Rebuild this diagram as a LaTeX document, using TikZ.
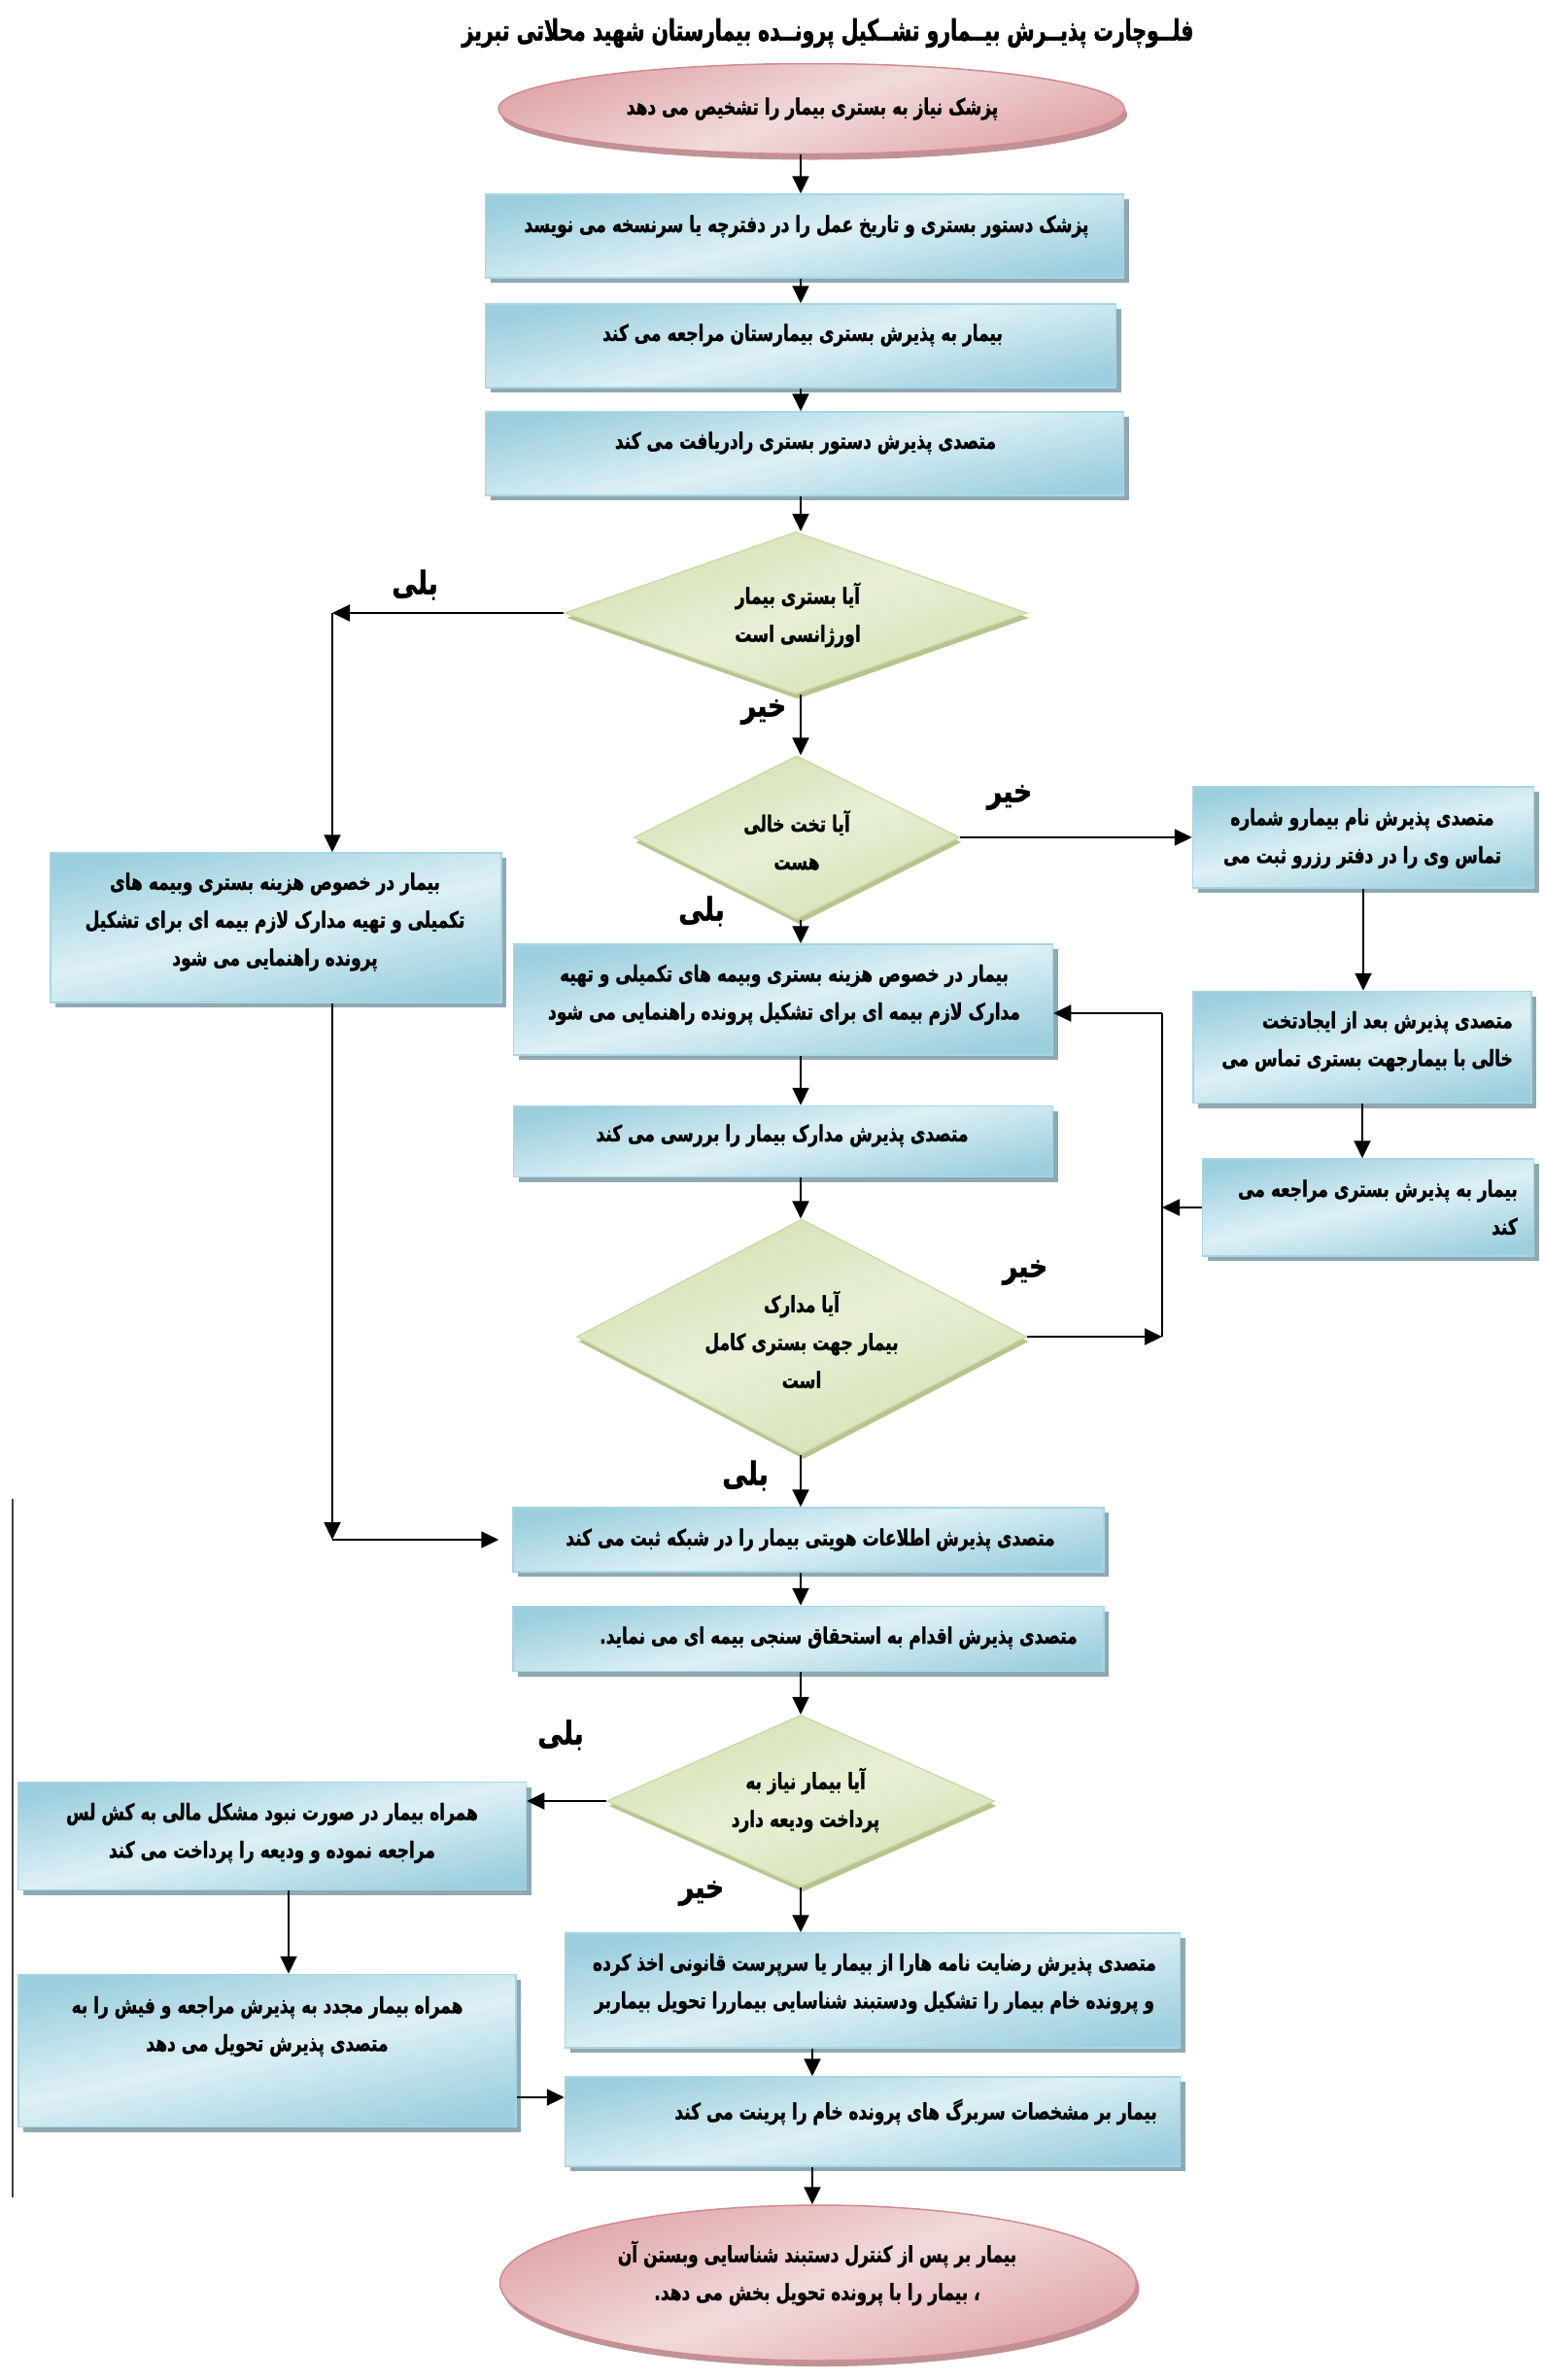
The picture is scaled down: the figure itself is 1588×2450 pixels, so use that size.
\documentclass[tikz,border=0pt]{standalone}
\usepackage{fontspec}
\TeXXeTstate=1
\newfontfamily\fafont[Script=Arabic, FakeStretch=0.74, FakeBold=1.2]{DejaVu Sans}
\newfontfamily\fatitle[Script=Arabic, FakeStretch=0.68, FakeBold=1.5]{DejaVu Sans}
\newfontfamily\falab[Script=Arabic, FakeStretch=0.8, FakeBold=1.5]{DejaVu Sans}
\usetikzlibrary{shapes.geometric,arrows.meta,calc}
\definecolor{boxlight}{HTML}{DDF0F5}
\definecolor{boxdark}{HTML}{9CCFDE}
\definecolor{boxedge}{HTML}{A6D6E4}
\definecolor{boxshadow}{HTML}{8FA8B2}
\definecolor{dialight}{HTML}{E8EFD6}
\definecolor{diadark}{HTML}{D4E0B2}
\definecolor{diaedge}{HTML}{C9D8A0}
\definecolor{diashadow}{HTML}{B8C490}
\definecolor{elllight}{HTML}{F1DADA}
\definecolor{elldark}{HTML}{E0A6AA}
\definecolor{elledge}{HTML}{D08A90}
\definecolor{ellshadow}{HTML}{BF9296}
\newcommand\fatxt[1]{\beginR #1\endR}
\tikzset{
  box/.style={rectangle, draw=boxedge, line width=1.5pt,
    top color=boxdark, bottom color=boxdark, middle color=boxlight, shading angle=12,
    preaction={fill=boxshadow, transform canvas={xshift=5pt,yshift=-5pt}}},
  dia/.style={diamond, draw=diaedge, line width=1.2pt,
    top color=diadark, bottom color=diadark, middle color=dialight, shading angle=20,
    preaction={fill=diashadow, transform canvas={xshift=2pt,yshift=-5pt}}},
  ell/.style={ellipse, draw=elledge, line width=1.5pt,
    top color=elldark, bottom color=elldark, middle color=elllight, shading angle=20,
    preaction={fill=ellshadow, transform canvas={xshift=3pt,yshift=-6pt}}},
  tx/.style={font=\fafont\bfseries\fontsize{23}{39}\selectfont, align=center, inner sep=0pt},
  txr/.style={tx, align=right, anchor=east},
  lab/.style={font=\falab\bfseries\fontsize{33}{36}\selectfont, inner sep=0pt},
  ttl/.style={font=\fatitle\bfseries\fontsize{30}{34}\selectfont, inner sep=0pt},
  arr/.style={-{Triangle[length=18pt,width=17pt]}, line width=2pt},
  ln/.style={line width=2pt},
}
\begin{document}
\begin{tikzpicture}[x=1pt,y=-1pt]
\useasboundingbox[fill=white] (0,0) rectangle (1588,2450);
\coordinate (cx) at (824,0);
\coordinate (cx2) at (836,0);
\coordinate (cl) at (297,0);
% title
\node[ttl] (title) at (852,34) {\fatxt{فلــوچارت پذیــرش بیــمارو تشــکیل پرونــده بیمارستان شهید محلاتی تبریز}};
% shapes
\node[ell, minimum width=644pt, minimum height=93pt] (e1) at (835,112) {};
\node[box, minimum width=657pt, minimum height=86pt] (b1) at (828,243) {};
\node[box, minimum width=649pt, minimum height=86pt] (b2) at (824,356) {};
\node[box, minimum width=657pt, minimum height=86pt] (b3) at (828,467) {};
\node[dia, minimum width=476pt, minimum height=167pt] (d1) at (819,631) {};
\node[dia, minimum width=335pt, minimum height=168pt] (d2) at (820,862) {};
\node[box, minimum width=351pt, minimum height=104pt] (r1) at (1403,862) {};
\node[box, minimum width=348pt, minimum height=115pt] (r2) at (1402,1078) {};
\node[box, minimum width=341pt, minimum height=100pt] (r3) at (1408,1243) {};
\node[box, minimum width=464pt, minimum height=154pt] (l1) at (284,955) {};
\node[box, minimum width=555pt, minimum height=114pt] (b4) at (806,1029) {};
\node[box, minimum width=555pt, minimum height=73pt] (b5) at (806,1175) {};
\node[dia, minimum width=463pt, minimum height=242pt] (d3) at (825,1376) {};
\node[box, minimum width=608pt, minimum height=66pt] (b6) at (832,1585) {};
\node[box, minimum width=608pt, minimum height=67pt] (b7) at (832,1687) {};
\node[dia, minimum width=399pt, minimum height=177pt] (d4) at (824,1854) {};
\node[box, minimum width=523pt, minimum height=111pt] (l2) at (280,1890) {};
\node[box, minimum width=512pt, minimum height=157pt] (l3) at (275,2111) {};
\node[box, minimum width=633pt, minimum height=118pt] (b8) at (898,2049) {};
\node[box, minimum width=633pt, minimum height=92pt] (b9) at (898,2184) {};
\node[ell, minimum width=655pt, minimum height=160pt] (e2) at (842,2350) {};
% texts
\node[tx] (te1) at (836,112) {\fatxt{پزشک نیاز به بستری بیمار را تشخیص می دهد}};
\node[tx] (tb1) at (830,233) {\fatxt{پزشک دستور بستری و تاریخ عمل را در دفترچه یا سرنسخه می نویسد}};
\node[tx] (tb2) at (826,345) {\fatxt{بیمار به پذیرش بستری بیمارستان مراجعه می کند}};
\node[tx] (tb3) at (829,456) {\fatxt{متصدی پذیرش دستور بستری رادریافت می کند}};
\node[tx] (td1) at (821,633) {\fatxt{آیا بستری بیمار}\\\fatxt{اورژانسی است}};
\node[tx] (td2) at (820,865) {\fatxt{آیا تخت خالی}\\\fatxt{هست}};
\node[tx] (tr1) at (1402,863) {\fatxt{متصدی پذیرش نام بیمارو شماره}\\\fatxt{تماس وی را در دفتر رزرو ثبت می}};
\node[txr] (tr2) at (1557,1072) {\fatxt{متصدی پذیرش بعد از ایجادتخت}\\\fatxt{خالی با بیمارجهت بستری تماس می}};
\node[txr] (tr3) at (1562,1243) {\fatxt{بیمار به پذیرش بستری مراجعه می}\\\fatxt{کند}};
\node[tx] (tl1) at (283,949) {\fatxt{بیمار در خصوص هزینه بستری وبیمه های}\\\fatxt{تکمیلی و تهیه مدارک لازم بیمه ای برای تشکیل}\\\fatxt{پرونده راهنمایی می شود}};
\node[tx] (tb4) at (807,1024) {\fatxt{بیمار در خصوص هزینه بستری وبیمه های تکمیلی و تهیه}\\\fatxt{مدارک لازم بیمه ای برای تشکیل پرونده راهنمایی می شود}};
\node[tx] (tb5) at (805,1169) {\fatxt{متصدی پذیرش مدارک بیمار را بررسی می کند}};
\node[tx] (td3) at (825,1379) {\fatxt{آیا مدارک}\\\fatxt{بیمار جهت بستری کامل}\\\fatxt{است}};
\node[tx] (tb6) at (834,1585) {\fatxt{متصدی پذیرش اطلاعات هویتی بیمار را در شبکه ثبت می کند}};
\node[tx] (tb7) at (863,1686) {\fatxt{متصدی پذیرش اقدام به استحقاق سنجی بیمه ای می نماید.}};
\node[tx] (td4) at (829,1853) {\fatxt{آیا بیمار نیاز به}\\\fatxt{پرداخت ودیعه دارد}};
\node[tx] (tl2) at (280,1887) {\fatxt{همراه بیمار در صورت نبود مشکل مالی به کش لس}\\\fatxt{مراجعه نموده و ودیعه را پرداخت می کند}};
\node[tx] (tl3) at (275,2086) {\fatxt{همراه بیمار مجدد به پذیرش مراجعه و فیش را به}\\\fatxt{متصدی پذیرش تحویل می دهد}};
\node[tx] (tb8) at (900,2042) {\fatxt{متصدی پذیرش رضایت نامه هارا از بیمار یا سرپرست قانونی اخذ کرده}\\\fatxt{و پرونده خام بیمار را تشکیل ودستبند شناسایی بیماررا تحویل بیماربر}};
\node[txr] (tb9) at (1191,2174) {\fatxt{بیمار بر مشخصات سربرگ های پرونده خام را پرینت می کند}};
\node[tx] (te2) at (841,2340) {\fatxt{بیمار بر پس از کنترل دستبند شناسایی وبستن آن}\\\fatxt{، بیمار را با پرونده تحویل بخش می دهد.}};
% labels
\node[lab] (y1) at (427,602) {\fatxt{بلی}};
\node[lab] (n1) at (786,733) {\fatxt{خیر}};
\node[lab] (n2) at (1039,821) {\fatxt{خیر}};
\node[lab] (y2) at (722,938) {\fatxt{بلی}};
\node[lab] (n3) at (1055,1310) {\fatxt{خیر}};
\node[lab] (y3) at (767,1519) {\fatxt{بلی}};
\node[lab] (y4) at (577,1786) {\fatxt{بلی}};
\node[lab] (n4) at (722,1949) {\fatxt{خیر}};
% corner coordinates
\coordinate (c1) at (342,631);
\coordinate (c2) at (342,1585);
\coordinate (ctop) at (1196,1043);
\coordinate (cbot) at (1196,1376);
\coordinate (c4) at (0,2159);
% connectors
\draw[arr] (e1.south -| cx) -- (b1.north -| cx);
\draw[arr] (b1.south -| cx) -- (b2.north -| cx);
\draw[arr] (b2.south -| cx) -- (b3.north -| cx);
\draw[arr] (b3.south -| cx) -- (d1.north -| cx);
\draw[arr] (d1.west) -- (c1);
\draw[arr] (c1) -- (c1 |- l1.north);
\draw[arr] (d1.south -| cx) -- (d2.north -| cx);
\draw[arr] (d2.east) -- (r1.west);
\draw[arr] (r1.south) -- (r1.south |- r2.north);
\draw[arr] (r2.south) -- (r2.south |- r3.north);
\draw[arr] (r3.west) -- (r3.west -| ctop);
\draw[ln] (ctop) -- (cbot);
\draw[arr] (ctop) -- (ctop -| b4.east);
\draw[arr] (d3.east) -- (cbot);
\draw[arr] (d2.south -| cx) -- (b4.north -| cx);
\draw[arr] (b4.south -| cx) -- (b5.north -| cx);
\draw[arr] (b5.south -| cx) -- (d3.north -| cx);
\draw[arr] (d3.south -| cx) -- (b6.north -| cx);
\draw[arr] (l1.south -| c2) -- (c2);
\draw[arr, shorten >=14pt] (c2) -- (b6.west);
\draw[arr] (b6.south -| cx) -- (b7.north -| cx);
\draw[arr] (b7.south -| cx) -- (d4.north -| cx);
\draw[arr] (d4.west) -- (d4.west -| l2.east);
\draw[arr] (d4.south -| cx) -- (b8.north -| cx);
\draw[arr] (l2.south -| cl) -- (l3.north -| cl);
\draw[arr] (l3.east |- c4) -- (b9.west |- c4);
\draw[arr] (b8.south -| cx2) -- (b9.north -| cx2);
\draw[arr] (b9.south -| cx2) -- (e2.north -| cx2);
% stray margin line
\draw[line width=1.5pt, black!75] (13,1543) -- (13,2262);
\end{tikzpicture}
\end{document}
